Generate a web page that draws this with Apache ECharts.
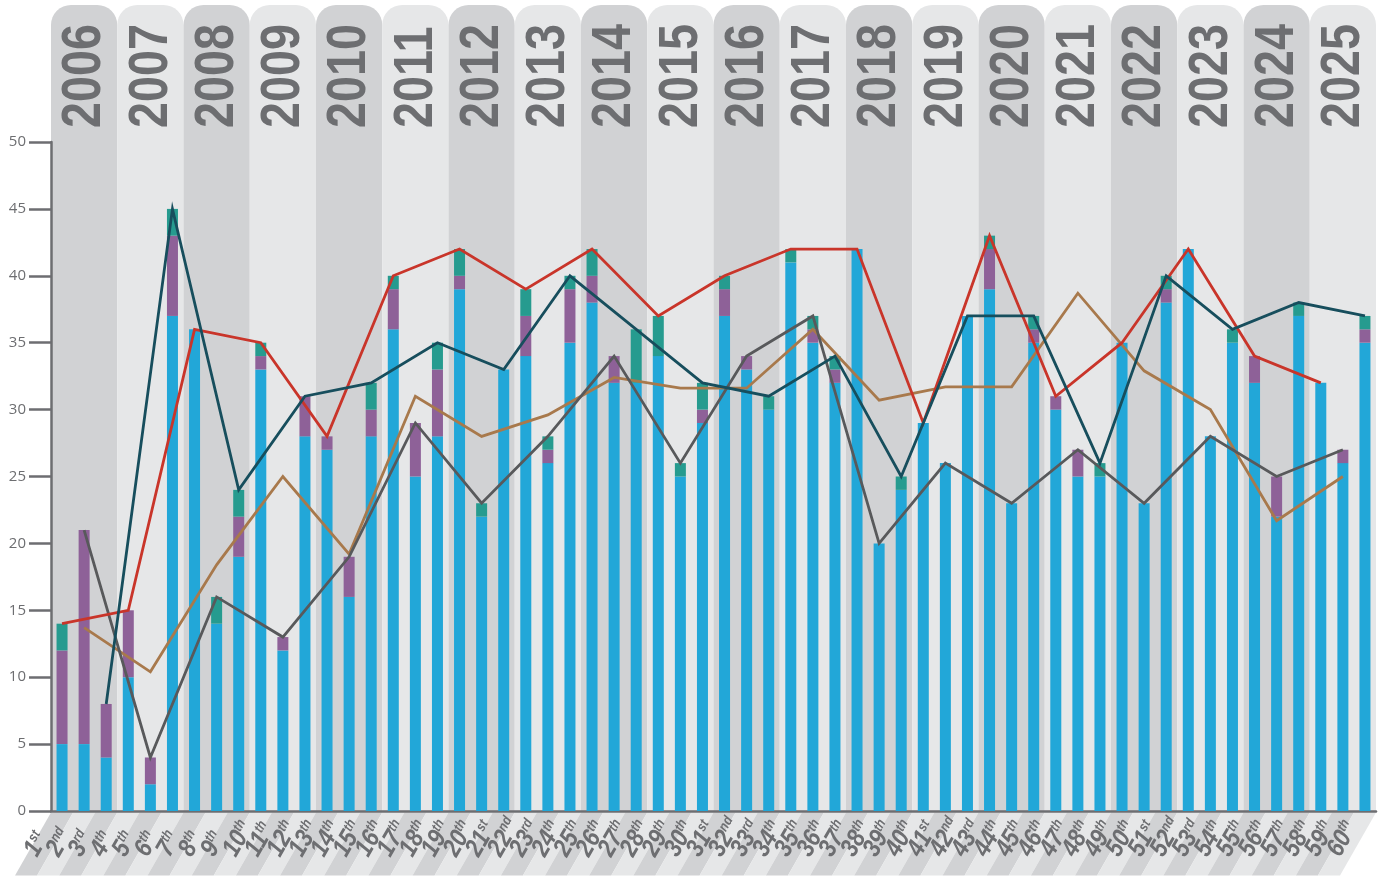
<!DOCTYPE html>
<html>
<head>
<meta charset="utf-8">
<script src="https://cdn.jsdelivr.net/npm/echarts@6/dist/echarts.min.js"></script>
<style>
html,body{margin:0;padding:0;background:#ffffff;}
#chart{width:1379px;height:877px;}
</style>
</head>
<body>
<div id="chart"></div>
<script>
// ---- Data ----
const categories = ['1st','2nd','3rd','4th','5th','6th','7th','8th','9th','10th',
  '11th','12th','13th','14th','15th','16th','17th','18th','19th','20th',
  '21st','22nd','23rd','24th','25th','26th','27th','28th','29th','30th',
  '31st','32nd','33rd','34th','35th','36th','37th','38th','39th','40th',
  '41st','42nd','43rd','44th','45th','46th','47th','48th','49th','50th',
  '51st','52nd','53rd','54th','55th','56th','57th','58th','59th','60th'];
const years = ['2006','2007','2008','2009','2010','2011','2012','2013','2014','2015',
  '2016','2017','2018','2019','2020','2021','2022','2023','2024','2025'];

const blueValues = [5,5,4,10,2,37,36,14,19,33,12,28,27,16,28,36,25,28,39,22,
  33,34,26,35,38,32,32,34,25,29,37,33,30,41,35,32,42,20,24,29,
  26,37,39,23,35,30,25,25,35,23,38,42,28,35,32,22,37,32,26,35];
const purpleValues = [7,16,4,5,2,6,0,0,3,1,1,3,1,3,2,3,4,5,1,0,
  0,3,1,4,2,2,0,0,0,1,2,1,0,0,1,1,0,0,0,0,
  0,0,3,0,1,1,2,0,0,0,1,0,0,0,2,3,0,0,1,1];
const tealValues = [2,0,0,0,0,2,0,2,2,1,0,0,0,0,2,1,0,2,2,1,
  0,2,1,1,2,0,4,3,1,2,1,0,1,1,1,1,0,0,1,0,
  0,0,1,0,1,0,0,1,0,0,1,0,0,1,0,0,1,0,0,1];

// yearly line values (one per year), placed at a given category within the year
const redLine = [14,15,36,35,28,40,42,39,42,37,40,42,42,29,43,31,35,42,34,32];
const navyLine = [8,45,24,31,32,35,33,40,36,32,31,34,25,37,37,26,40,36,38,37];
const greyLine = [21,4,16,13,19,29,23,28,34,26,34,37,20,26,23,27,23,28,25,27];
const brownLine = [13.7,10.4,18.4,25,19.2,31,28,29.6,32.4,31.6,31.6,36,30.7,31.7,31.7,38.7,32.9,30,21.7,25];

const redOffset = 0, navyOffset = 2, greyOffset = 1, brownOffset = 1;

// ---- Build ----
function spread(vals, offset) {
  const out = categories.map(() => null);
  vals.forEach((v, i) => { out[i * 3 + offset] = v; });
  return out;
}

const TEXT = '#6d6e71';
const DARK = '#d1d2d4';
const LIGHT = '#e6e7e8';
const FONT = "'Liberation Sans',Arial,sans-serif";

const chart = echarts.init(document.getElementById('chart'));

const lineBase = {
  type: 'line', showSymbol: false, connectNulls: true, z: 5
};

const option = {
  animation: false,
  grid: { left: 51, right: 3, top: 142, bottom: 66 },
  xAxis: {
    type: 'category', data: categories, boundaryGap: true,
    axisLine: { lineStyle: { color: TEXT, width: 2.5 } },
    axisTick: { show: false },
    axisLabel: { show: false },
    splitLine: { show: false }
  },
  yAxis: {
    type: 'value', min: 0, max: 50, interval: 5,
    axisLine: { show: true, lineStyle: { color: TEXT, width: 2.5 } },
    axisTick: { show: true, length: 22, lineStyle: { color: TEXT, width: 2.5 } },
    axisLabel: { color: TEXT, fontSize: 15, margin: 25, fontFamily: "'Open Sans',sans-serif" },
    splitLine: { show: false }
  },
  series: [
    {
      type: 'custom', z: -1, silent: true,
      data: years.map((y, i) => [i * 3, 0]),
      encode: { x: 0, y: 1 },
      renderItem: function (params, api) {
        const i = params.dataIndex;
        const c = api.coord([api.value(0), 0]);
        const bw = api.size([1, 0])[0];
        const x0 = c[0] - bw / 2;
        const top = api.coord([0, 50])[1] - 137;
        return {
          type: 'group',
          children: [
            { type: 'rect', shape: { x: x0, y: top, width: bw * 3, height: c[1] - top, r: [20, 20, 0, 0] },
              style: { fill: i % 2 === 0 ? DARK : LIGHT } },
            { type: 'text', x: x0 + bw * 1.5 + 1, y: top + 123, rotation: Math.PI / 2, scaleX: 0.85,
              style: { text: years[i], fill: TEXT, font: 'bold 55px ' + FONT, align: 'left', verticalAlign: 'middle' } }
          ]
        };
      }
    },
    {
      type: 'custom', z: -1, silent: true,
      data: categories.map((c, i) => [i, 0]),
      encode: { x: 0, y: 1 },
      renderItem: function (params, api) {
        const i = params.dataIndex;
        const c = api.coord([api.value(0), 0]);
        const bw = api.size([1, 0])[0];
        const x0 = c[0] - bw / 2;
        const y0 = c[1] + 1.5;
        const y1 = y0 + 63;
        const dx = 36;
        const lab = categories[i];
        const num = lab.replace(/[a-z]+$/, '');
        const suf = lab.slice(num.length);
        return {
          type: 'group',
          children: [
            { type: 'polygon', shape: { points: [[x0, y0], [x0 + bw, y0], [x0 + bw - dx, y1], [x0 - dx, y1]] },
              style: { fill: i % 2 === 0 ? DARK : LIGHT } },
            { type: 'text', x: c[0] - 20, y: c[1] + 50, rotation: Math.PI / 3, scaleX: 0.85,
              style: {
                text: '{n|' + num + '}{s|' + suf + '}',
                align: 'left', verticalAlign: 'bottom',
                rich: {
                  n: { fill: TEXT, font: 'italic bold 26px ' + FONT },
                  s: { fill: TEXT, font: 'italic bold 14px ' + FONT, verticalAlign: 'top' }
                }
              } }
          ]
        };
      }
    },
    { name: 'A', type: 'bar', stack: 'total', barWidth: 11, data: blueValues, itemStyle: { color: '#22a7d8' } },
    { name: 'B', type: 'bar', stack: 'total', barWidth: 11, data: purpleValues, itemStyle: { color: '#8e6198' } },
    { name: 'C', type: 'bar', stack: 'total', barWidth: 11, data: tealValues, itemStyle: { color: '#269b8f' } },
    Object.assign({}, lineBase, { name: 'brown', data: spread(brownLine, brownOffset), itemStyle: { color: '#a8794c' }, lineStyle: { width: 2.8, join: 'miter', color: '#a8794c' } }),
    Object.assign({}, lineBase, { name: 'grey', data: spread(greyLine, greyOffset), itemStyle: { color: '#58595b' }, lineStyle: { width: 2.8, join: 'miter', color: '#58595b' } }),
    Object.assign({}, lineBase, { name: 'red', data: spread(redLine, redOffset), itemStyle: { color: '#c9352a' }, lineStyle: { width: 2.8, join: 'miter', color: '#c9352a' } }),
    Object.assign({}, lineBase, { name: 'navy', data: spread(navyLine, navyOffset), itemStyle: { color: '#174e5d' }, lineStyle: { width: 2.8, join: 'miter', color: '#174e5d' } })
  ]
};
chart.setOption(option);
</script>
</body>
</html>
